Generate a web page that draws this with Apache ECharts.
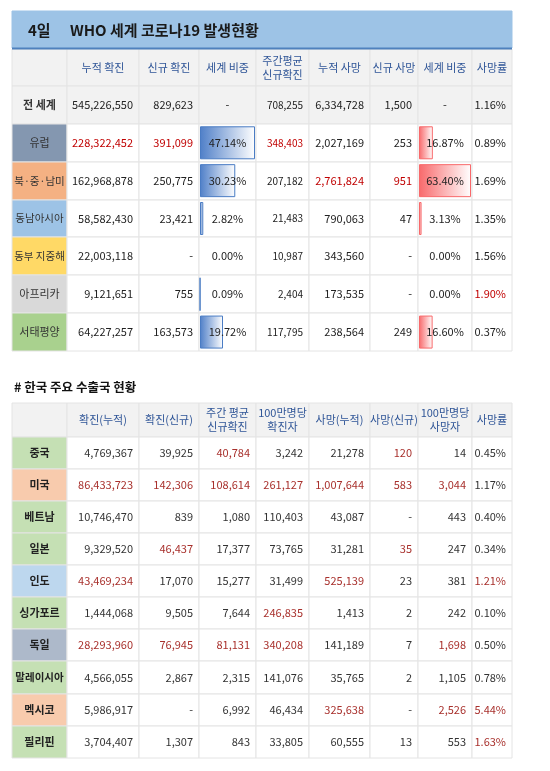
<!DOCTYPE html>
<html><head><meta charset="utf-8">
<script src="https://cdn.jsdelivr.net/npm/echarts@6/dist/echarts.min.js"></script>
<style>html,body{margin:0;padding:0;background:#fff}#c{width:550px;height:771px}</style>
</head><body><div id="c"></div>
<script>
// ---- Top table data ----
const regions = ['전 세계','유럽','북·중·남미','동남아시아','동부 지중해','아프리카','서태평양'];
const regCum = [545226550,228322452,162968878,58582430,22003118,9121651,64227257];
const regNew = [829623,391099,250775,23421,null,755,163573];
const regShare = [null,47.14,30.23,2.82,0.00,0.09,19.72];
const regWeekly = [708255,348403,207182,21483,10987,2404,117795];
const regDeaths = [6334728,2027169,2761824,790063,343560,173535,238564];
const regNewD = [1500,253,951,47,null,null,249];
const regDShare = [null,16.87,63.40,3.13,0.00,0.00,16.60];
const regFatal = [1.16,0.89,1.69,1.35,1.56,1.90,0.37];
const topHeaders = ['','누적 확진','신규 확진','세계 비중','주간평균\n신규확진','누적 사망','신규 사망','세계 비중','사망률'];
// ---- Bottom table data ----
const countries = ['중국','미국','베트남','일본','인도','싱가포르','독일','말레이시아','멕시코','필리핀'];
const cCum = [4769367,86433723,10746470,9329520,43469234,1444068,28293960,4566055,5986917,3704407];
const cNew = [39925,142306,839,46437,17070,9505,76945,2867,null,1307];
const cWeekly = [40784,108614,1080,17377,15277,7644,81131,2315,6992,843];
const cPerM = [3242,261127,110403,73765,31499,246835,340208,141076,46434,33805];
const cDeaths = [21278,1007644,43087,31281,525139,1413,141189,35765,325638,60555];
const cNewD = [120,583,null,35,23,2,7,2,null,13];
const cPerMD = [14,3044,443,247,381,242,1698,1105,2526,553];
const cFatal = [0.45,1.17,0.40,0.34,1.21,0.10,0.50,0.78,5.44,1.63];
const botHeaders = ['','확진(누적)','확진(신규)','주간 평균\n신규확진','100만명당\n확진자','사망(누적)','사망(신규)','100만명당\n사망자','사망률'];

// ---- styling (not data) ----
const colX = [12,67,139,199,256,309,370,418,472,512];
const regColors = ['#f2f2f2','#8497b0','#f4b183','#9dc3e6','#ffd966','#d9d9d9','#a9d18e'];
const cColors = ['#c5e0b4','#f8cbad','#c5e0b4','#c5e0b4','#bdd7ee','#c5e0b4','#adb9ca','#c5e0b4','#f8cbad','#c5e0b4'];
const topRed = {'1-1':1,'1-2':1,'1-4':1,'2-5':1,'2-6':1,'5-8':1};
const botRed = {'0-3':1,'0-6':1,'1-1':1,'1-2':1,'1-3':1,'1-4':1,'1-5':1,'1-6':1,'1-7':1,'3-2':1,'3-6':1,
 '4-1':1,'4-5':1,'4-8':1,'5-4':1,'6-1':1,'6-2':1,'6-3':1,'6-4':1,'6-7':1,'8-5':1,'8-7':1,'8-8':1,'9-8':1};
const FONT = '"Noto Sans CJK KR","Noto Sans",sans-serif';
const fmt = v => v == null ? '-' : v.toLocaleString('en-US');
const pct = v => v == null ? '-' : v.toFixed(2) + '%';

const g = [];
function rect(x,y,w,h,fill,stroke){g.push({type:'rect',z:0,shape:{x,y,width:w,height:h},style:{fill,stroke:stroke||'#dcdcdc',lineWidth:1}});}
function text(s,x,y,align,opt){opt=opt||{};g.push({type:'text',z:100,x,y,style:{text:s,fill:opt.fill||'#222',font:(opt.weight||'normal')+' '+(opt.size||11)+'px '+FONT,textAlign:align,textVerticalAlign:'middle',verticalAlign:'middle',lineHeight:opt.lh||14}});}
function cellText(s,c,y,align,opt){
  const x = align==='center' ? (colX[c]+colX[c+1])/2 : colX[c+1]-6;
  text(s,x,y,align,opt);
}

// title band
rect(12,11,500,37,'#9dc3e6','#9dc3e6');
g.push({type:'line',z:1,shape:{x1:12,y1:48.5,x2:512,y2:48.5},style:{stroke:'#4f81bd',lineWidth:2}});
text('4일',28,30,'left',{size:15,weight:'bold',fill:'#1a1a1a'});
text('WHO 세계 코로나19 발생현황',70,30,'left',{size:15,weight:'bold',fill:'#1a1a1a'});

// top table
const topY = [49,86,124,162,200,237,275,313,351];
for(let c=0;c<9;c++) rect(colX[c],topY[0],colX[c+1]-colX[c],topY[1]-topY[0],'#f2f2f2','#e4e4e4');
topHeaders.forEach((h,c)=>{ if(h) cellText(h,c,(topY[0]+topY[1])/2,'center',{fill:'#2f5597',size:11}); });
const topCols = [regCum,regNew,regShare,regWeekly,regDeaths,regNewD,regDShare,regFatal];
regions.forEach((r,i)=>{
  const y0=topY[i+1], y1=topY[i+2], ym=(y0+y1)/2;
  for(let c=0;c<9;c++) rect(colX[c],y0,colX[c+1]-colX[c],y1-y0, c===0?regColors[i]:(i===0?'#f2f2f2':'#fff'),'#e4e4e4');
  cellText(r,0,ym,'center',{fill:'#333',size:r.length>4?10.5:11,weight:i===0?'bold':'normal'});
  topCols.forEach((arr,k)=>{
    const c=k+1, red=topRed[i+'-'+c];
    const fill=red?'#c00000':'#222';
    if(c===3||c===7) cellText(pct(arr[i]),c,ym,'center',{fill});
    else if(c===8) cellText(pct(arr[i]),c,ym,'right',{fill});
    else if(c===4) cellText(fmt(arr[i]),c,ym,'right',{fill,size:10});
    else cellText(fmt(arr[i]),c,ym,'right',{fill,size:11});
  });
});

// bottom title
text('# 한국 주요 수출국 현황',14,387,'left',{size:12.5,weight:'bold',fill:'#111'});
const botY=[403,437,469,501,533,565,597,629,661,694,726,758];
for(let c=0;c<9;c++) rect(colX[c],botY[0],colX[c+1]-colX[c],botY[1]-botY[0],'#f2f2f2','#e4e4e4');
botHeaders.forEach((h,c)=>{ if(h) cellText(h,c,(botY[0]+botY[1])/2,'center',{fill:'#2f5597',size:11}); });
const botCols=[cCum,cNew,cWeekly,cPerM,cDeaths,cNewD,cPerMD,cFatal];
countries.forEach((r,i)=>{
  const y0=botY[i+1], y1=botY[i+2], ym=(y0+y1)/2;
  for(let c=0;c<9;c++) rect(colX[c],y0,colX[c+1]-colX[c],y1-y0,c===0?cColors[i]:'#fff','#e4e4e4');
  cellText(r,0,ym,'center',{fill:'#222',size:r.length>4?10.5:11,weight:'bold'});
  botCols.forEach((arr,k)=>{
    const c=k+1, red=botRed[i+'-'+c];
    cellText(c===8?pct(arr[i]):fmt(arr[i]),c,ym,'right',{fill:red?'#a8302c':'#333',size:11});
  });
});

function barGrid(idx,col,arr,c1,c2,border){
  return {
    grid:{left:colX[col]+1,width:colX[col+1]-colX[col]-2,top:topY[1],height:topY[8]-topY[1]},
    xAxis:{gridIndex:idx,type:'value',min:0,max:Math.max(...arr.filter(v=>v!=null)),show:false},
    yAxis:{gridIndex:idx,type:'category',data:regions,inverse:true,show:false},
    series:{type:'bar',xAxisIndex:idx,yAxisIndex:idx,barWidth:33,z:5,silent:true,
      data:arr.map(v=>v>0?v:null),
      itemStyle:{borderColor:border,borderWidth:1,
        color:{type:'linear',x:0,y:0,x2:1,y2:0,colorStops:[{offset:0,color:c1},{offset:1,color:c2}]}}}
  };
}
const b1=barGrid(0,3,regShare,'#4f7fc8','#ffffff','#4a7cc4');
const b2=barGrid(1,7,regDShare,'#f8696b','#ffffff','#f8696b');

const chart=echarts.init(document.getElementById('c'));
chart.setOption({
  animation:false,
  grid:[b1.grid,b2.grid],xAxis:[b1.xAxis,b2.xAxis],yAxis:[b1.yAxis,b2.yAxis],
  series:[b1.series,b2.series],
  graphic:{elements:g}
});
</script></body></html>
